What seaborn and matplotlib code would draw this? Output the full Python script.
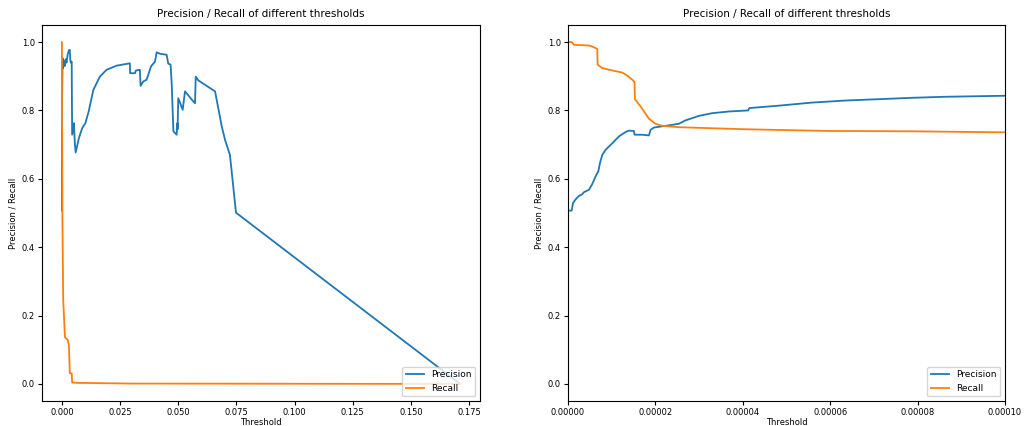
import numpy as np
import pandas as pd
import seaborn as sns
import matplotlib.pyplot as plt
from matplotlib.ticker import FormatStrFormatter

# precision curve (threshold, value)
prec_thr = [0, 0.084e-5, 0.114e-5, 0.175e-5, 0.251e-5, 0.327e-5, 0.366e-5, 0.480e-5, 0.556e-5,
            0.632e-5, 0.670e-5, 0.693e-5, 0.731e-5, 0.785e-5, 0.861e-5, 1.013e-5, 1.165e-5,
            1.318e-5, 1.394e-5, 1.508e-5, 1.523e-5, 1.698e-5, 1.851e-5, 1.889e-5, 1.965e-5,
            2.232e-5, 2.536e-5, 2.689e-5, 2.993e-5, 3.298e-5, 3.679e-5, 4.120e-5, 4.151e-5,
            4.821e-5, 5.583e-5, 6.344e-5, 7.106e-5, 7.867e-5, 8.629e-5, 10.0e-5,
            0.0002, 0.0003, 0.0005, 0.0008, 0.0012, 0.0016, 0.0020, 0.0025, 0.0029, 0.0031,
            0.0034, 0.0036, 0.0038, 0.0042, 0.0044, 0.0052, 0.0053, 0.0056, 0.0059, 0.0073,
            0.0087, 0.0101, 0.0115, 0.0135, 0.0163, 0.0192, 0.0235, 0.0292, 0.0293, 0.0314,
            0.0318, 0.0335, 0.0338, 0.0350, 0.0364, 0.0383, 0.0400, 0.0407, 0.0421, 0.0450,
            0.0457, 0.0467, 0.0472, 0.0479, 0.0493, 0.0496, 0.0497, 0.0500, 0.0519, 0.0529,
            0.0565, 0.0572, 0.0575, 0.0586, 0.0644, 0.0658, 0.0687, 0.0701, 0.0722, 0.0748,
            0.1711]
prec_val = [0.507, 0.507, 0.529, 0.540, 0.550, 0.555, 0.561, 0.568, 0.585,
            0.607, 0.617, 0.621, 0.646, 0.670, 0.685, 0.704, 0.724,
            0.737, 0.741, 0.740, 0.729, 0.729, 0.727, 0.743, 0.750,
            0.755, 0.761, 0.771, 0.784, 0.792, 0.797, 0.800, 0.807,
            0.814, 0.823, 0.829, 0.833, 0.837, 0.840, 0.843,
            0.90, 0.953, 0.924, 0.945, 0.930, 0.950, 0.940, 0.965, 0.973, 0.977,
            0.977, 0.948, 0.940, 0.943, 0.729, 0.763, 0.740, 0.700, 0.677, 0.719,
            0.748, 0.763, 0.797, 0.860, 0.899, 0.919, 0.931, 0.938, 0.909, 0.909,
            0.917, 0.919, 0.872, 0.885, 0.890, 0.929, 0.943, 0.970, 0.966, 0.963,
            0.937, 0.934, 0.875, 0.739, 0.729, 0.763, 0.745, 0.836, 0.802, 0.856,
            0.826, 0.821, 0.899, 0.888, 0.862, 0.856, 0.753, 0.714, 0.670, 0.501,
            0.0]

# recall curve (threshold, value)
rec_thr = [0, 0.084e-5, 0.137e-5, 0.48e-5, 0.556e-5, 0.670e-5, 0.678e-5, 0.785e-5, 1.013e-5,
           1.241e-5, 1.356e-5, 1.47e-5, 1.523e-5, 1.531e-5, 1.660e-5, 1.851e-5, 2.003e-5,
           2.155e-5, 2.536e-5, 4.06e-5, 5.963e-5, 7.867e-5, 10.0e-5,
           0.0002, 0.00056, 0.0013, 0.0015, 0.00245, 0.0030, 0.0034, 0.0042, 0.0044,
           0.0070, 0.0300, 0.1711]
rec_val = [1.0, 1.0, 0.992, 0.990, 0.987, 0.980, 0.934, 0.924, 0.917,
           0.911, 0.902, 0.890, 0.883, 0.833, 0.812, 0.776, 0.761,
           0.755, 0.751, 0.745, 0.740, 0.739, 0.736,
           0.50, 0.246, 0.138, 0.135, 0.129, 0.114, 0.031, 0.031, 0.004,
           0.003, 0.001, 0.0]

df = pd.concat([
    pd.DataFrame({"threshold": prec_thr, "value": prec_val, "metric": "Precision"}),
    pd.DataFrame({"threshold": rec_thr, "value": rec_val, "metric": "Recall"}),
])

fig = plt.figure(figsize=(10.24, 4.26), dpi=100)
ax1 = fig.add_axes([42 / 1024, 1 - 401 / 426, 438 / 1024, 376 / 426])
ax2 = fig.add_axes([568 / 1024, 1 - 401 / 426, 437 / 1024, 376 / 426])

for ax in (ax1, ax2):
    sns.lineplot(data=df, x="threshold", y="value", hue="metric", ax=ax,
                 estimator=None, sort=False, palette=["#1f77b4", "#ff7f0e"], linewidth=1.3)
    ax.set_title("Precision / Recall of different thresholds", fontsize=7.5)
    ax.set_xlabel("Threshold", fontsize=6, labelpad=1)
    ax.set_ylabel("Precision / Recall", fontsize=6, labelpad=3)
    ax.tick_params(labelsize=6, length=3, pad=2)
    ax.set_ylim(-0.05, 1.05)
    sns.move_legend(ax, "lower right", title=None, fontsize=6.5)

ax2.set_xlim(0, 0.0001)
ax2.xaxis.set_major_formatter(FormatStrFormatter("%.5f"))

fig.savefig("out.png", dpi=100)
